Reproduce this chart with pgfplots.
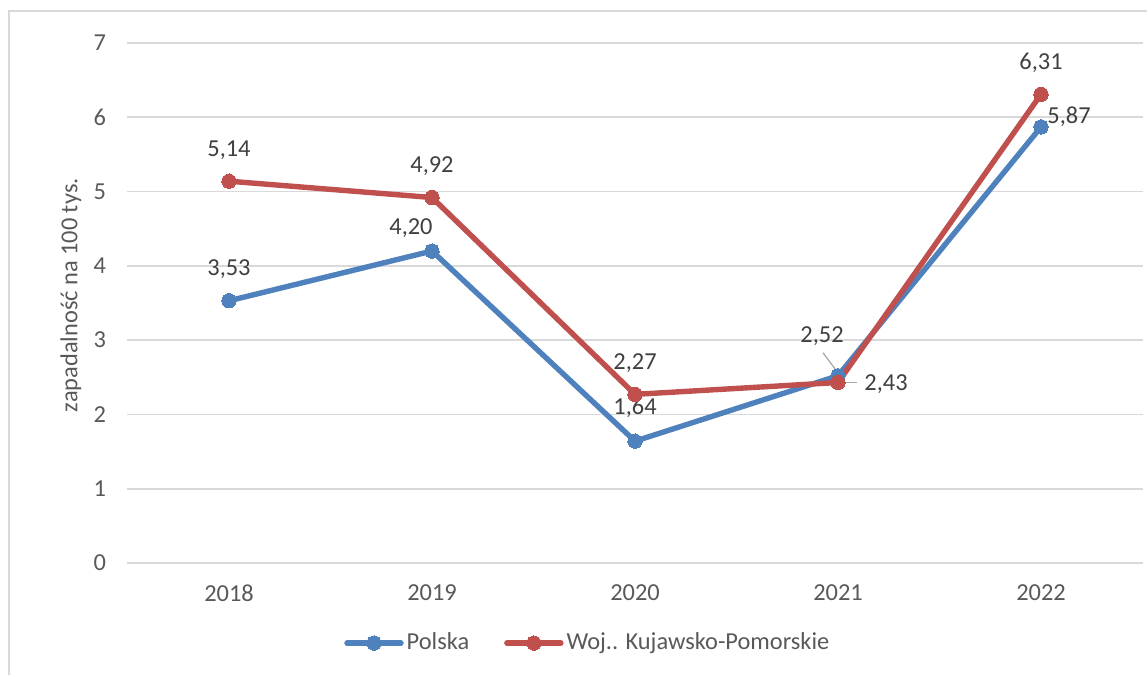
\documentclass[border=0pt]{standalone}
\usepackage{pgfplots}
\pgfplotsset{compat=1.18}
\usepackage{pgfplotstable}
\usepackage{fontspec}
\setmainfont{Carlito}
\definecolor{cblue}{HTML}{4F81BD}
\definecolor{cred}{HTML}{C0504D}
\definecolor{cgrid}{HTML}{D9D9D9}
\definecolor{ctick}{HTML}{595959}
\definecolor{clab}{HTML}{404040}
\newcommand{\cf}{\fontsize{12.2}{14.5}\selectfont}
\pgfplotstableread{
x y lab dx dy
0 3.53 3,53 0 32
1 4.20 4,20 -21 23
2 1.64 1,64 0 33
3 2.52 2,52 -16 40
4 5.87 5,87 28 10
}\polska
\pgfplotstableread{
x y lab dx dy
0 5.14 5,14 0 31
1 4.92 4,92 0 31
2 2.27 2,27 0 31
3 2.43 2,43 48 -2
4 6.31 6,31 0 31
}\kujawy
\begin{document}
\begin{tikzpicture}
\cf
\path[use as bounding box] (0,0) rectangle (573.5pt,337.5pt);
\draw[cgrid, line width=0.8pt] (4.5pt,-1pt) -- (4.5pt,332pt) -- (575pt,332pt);
\begin{axis}[
  at={(63.75pt,56pt)}, anchor=south west,
  scale only axis, width=507.5pt, height=260pt,
  xmin=-0.5, xmax=4.5, ymin=0, ymax=7,
  xtick={0,1,2,3,4}, xticklabels={2018,2019,2020,2021,2022},
  ytick={0,1,...,7},
  ymajorgrids, grid style={cgrid, line width=0.8pt},
  axis line style={draw=none},
  major tick length=0pt,
  tick label style={font=\cf, text=ctick},
  /pgf/number format/assume math mode=true,
  every y tick label/.append style={anchor=east, inner sep=0pt, xshift=-10.5pt},
  every x tick label/.append style={anchor=center, inner sep=0pt, yshift=-15pt},
  ylabel={zapadalność na 100 tys.},
  ylabel style={at={(axis description cs:-0.0557,0.515)}, anchor=center, font=\cf, text=ctick},
  legend columns=2,
  legend style={draw=none, fill=none, at={(0.454,-0.154)}, anchor=center,
    font=\cf, text=ctick,
    nodes={inner sep=1.5pt}, /tikz/every even column/.append style={column sep=16pt}},
  legend image code/.code={\draw[mark repeat=2,mark phase=2,#1] plot coordinates {(0pt,0pt) (13.5pt,0pt) (27pt,0pt)};},
  nodes near coords={\pgfplotspointmeta},
  point meta=explicit symbolic,
  visualization depends on={0.5*\thisrow{dx} \as \dx},
  visualization depends on={0.5*\thisrow{dy} \as \dy},
  nodes near coords style={anchor=center, inner sep=0pt, text=clab, font=\cf, xshift=\dx pt, yshift=\dy pt},
  clip=false,
]
\addplot[cblue, line width=2.7pt, line cap=round, line join=round, mark=*, mark size=3.6pt, mark options={solid, fill=cblue, draw=cblue, line width=0pt}] table[x=x, y=y, meta=lab] {\polska};
\addlegendentry{Polska}
\addplot[cred, line width=2.7pt, line cap=round, line join=round, mark=*, mark size=3.6pt, mark options={solid, fill=cred, draw=cred, line width=0pt}] table[x=x, y=y, meta=lab] {\kujawy};
\addlegendentry{Woj.. Kujawsko-Pomorskie}
\draw[gray!70, line width=0.6pt] (axis cs:3,2.52) ++(-7.5pt,11.5pt) -- ++(7.5pt,-10pt);
\draw[gray!70, line width=0.6pt] (axis cs:3,2.43) ++(1pt,0pt) -- ++(8.5pt,0pt);
\end{axis}
\end{tikzpicture}
\end{document}
